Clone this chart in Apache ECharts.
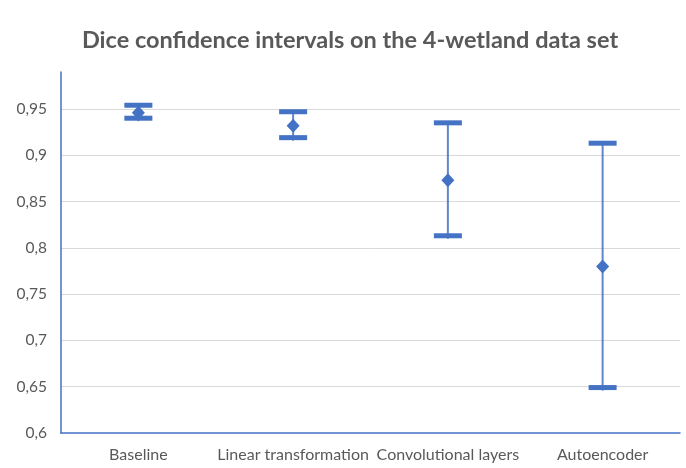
<!DOCTYPE html>
<html>
<head>
<meta charset="utf-8">
<script src="https://cdn.jsdelivr.net/npm/echarts@6/dist/echarts.min.js"></script>
<style>
  html, body { margin: 0; padding: 0; background: #ffffff; }
  #chart { width: 686px; height: 468px; }
</style>
</head>
<body>
<div id="chart"></div>
<script>
// Dice score per model: lower bound, mean, upper bound of the confidence interval
const categories = ['Baseline', 'Linear transformation', 'Convolutional layers', 'Autoencoder'];
const lowValues  = [0.939, 0.918, 0.812, 0.648];
const meanValues = [0.946, 0.932, 0.873, 0.780];
const highValues = [0.953, 0.946, 0.934, 0.912];
const gridTicks  = [0.65, 0.7, 0.75, 0.8, 0.85, 0.9, 0.95];

const BLUE = '#4472C4';
const TEXT = '#595959';
const FONT = 'Lato, "Open Sans", sans-serif';

const intervalData = categories.map((c, i) => [i, lowValues[i], highValues[i]]);
const meanData = categories.map((c, i) => [i, meanValues[i]]);

function renderInterval(params, api) {
  const x = api.value(0);
  const low = api.coord([x, api.value(1)]);
  const high = api.coord([x, api.value(2)]);
  const capW = 28, capH = 5;
  return {
    type: 'group',
    children: [
      {
        type: 'line',
        shape: { x1: high[0], y1: high[1], x2: low[0], y2: low[1] + 2 },
        style: { stroke: BLUE, lineWidth: 2, opacity: 0.85 }
      },
      {
        type: 'rect',
        shape: { x: high[0] - capW / 2, y: high[1] - capH / 2 - 1, width: capW, height: capH },
        style: { fill: BLUE }
      },
      {
        type: 'rect',
        shape: { x: low[0] - capW / 2, y: low[1] - capH / 2 - 1, width: capW, height: capH },
        style: { fill: BLUE }
      }
    ]
  };
}

function formatTick(v) {
  // hide the label at the axis top, which is not a 0.05 step
  if (Math.abs(Math.round(v * 20) - v * 20) > 1e-6) return '';
  return String(parseFloat(v.toFixed(2))).replace('.', ',');
}

const chart = echarts.init(document.getElementById('chart'), null, { renderer: 'canvas' });
chart.setOption({
  animation: false,
  backgroundColor: '#ffffff',
  title: {
    text: 'Dice confidence intervals on the 4-wetland data set',
    left: 345,
    top: 23,
    textAlign: 'center',
    textStyle: { fontFamily: FONT, fontWeight: 'bold', fontSize: 23.5, color: TEXT }
  },
  grid: { left: 61, right: 6, top: 72, bottom: 35, containLabel: false },
  xAxis: {
    type: 'category',
    data: categories,
    boundaryGap: true,
    axisLine: { show: true, lineStyle: { color: BLUE, width: 1.5 } },
    axisTick: { show: false },
    splitLine: { show: false },
    axisLabel: { interval: 0, margin: 14, fontFamily: FONT, fontSize: 16, color: TEXT }
  },
  yAxis: {
    type: 'value',
    min: 0.6,
    max: 0.99,
    interval: 0.05,
    axisLine: { show: true, lineStyle: { color: BLUE, width: 1.5 } },
    axisTick: { show: false },
    splitLine: { show: false },
    axisLabel: { margin: 14, fontFamily: FONT, fontSize: 15.5, color: TEXT, formatter: formatTick }
  },
  series: [
    {
      type: 'scatter',
      data: meanData,
      symbol: 'diamond',
      symbolSize: [13, 14],
      itemStyle: { color: BLUE, opacity: 1 },
      z: 3,
      silent: true,
      markLine: {
        silent: true,
        symbol: 'none',
        label: { show: false },
        lineStyle: { color: '#d9d9d9', width: 1, type: 'solid' },
        data: gridTicks.map(v => ({ yAxis: v })),
        z: 0
      }
    },
    {
      type: 'custom',
      data: intervalData,
      renderItem: renderInterval,
      encode: { x: 0, y: [1, 2] },
      z: 4,
      silent: true
    }
  ]
});
</script>
</body>
</html>
